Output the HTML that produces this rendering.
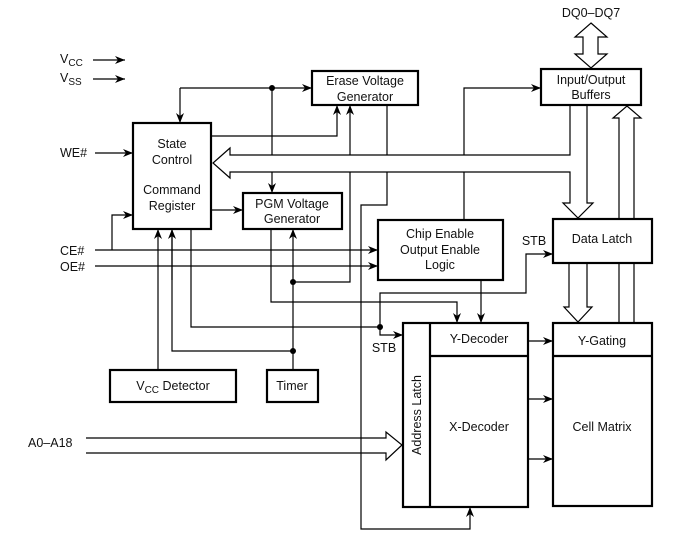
<!DOCTYPE html>
<html><head><meta charset="utf-8"><style>
html,body{margin:0;padding:0;background:#fff}
svg{display:block}
text{font-family:"Liberation Sans",sans-serif;font-size:12.5px;fill:#111}
</style></head><body>
<svg width="697" height="560" viewBox="0 0 697 560" xmlns="http://www.w3.org/2000/svg">
<defs>
<marker id="a" markerWidth="10" markerHeight="8" refX="10" refY="4" orient="auto" markerUnits="userSpaceOnUse">
<path d="M0,0 L10,4 L0,8 L3,4 Z" fill="#000"/></marker>
</defs>
<g fill="none" stroke="#000" stroke-width="1.2">
<line x1="93" y1="60" x2="125" y2="60" marker-end="url(#a)"/>
<line x1="93" y1="79" x2="125" y2="79" marker-end="url(#a)"/>
<line x1="95" y1="153" x2="133" y2="153" marker-end="url(#a)"/>
<line x1="180" y1="88" x2="312" y2="88" marker-end="url(#a)"/>
<line x1="180" y1="88" x2="180" y2="123" marker-end="url(#a)"/>
<line x1="272" y1="88" x2="272" y2="193" marker-end="url(#a)"/>
<polyline points="211,136 337,136 337,105" marker-end="url(#a)"/>
<polyline points="293,282 350,282 350,105" marker-end="url(#a)"/>
<polyline points="387,105 387,205 361,205 361,529 470,529 470,507" marker-end="url(#a)"/>
<polyline points="464,220 464,88 541,88" marker-end="url(#a)"/>
<!-- bus hollow left (white filled, interrupts crossing lines) -->
<path d="M570,105 L570,155 L230,155 L230,148 L213,163 L230,178 L230,172 L570,172 L570,203 L563,203 L578,218 L593,203 L587,203 L587,105" fill="#fff"/>
<path d="M591,23 L607,37 L598,37 L598,54 L607,54 L591,68 L575,54 L583,54 L583,37 L575,37 Z"/>
<path d="M619,323 L619,118 L613,118 L627,106 L641,118 L634,118 L634,323"/>
<path d="M569,263 L569,307 L564,307 L578,322 L592,307 L587,307 L587,263"/>
<line x1="211" y1="210" x2="243" y2="210" marker-end="url(#a)"/>
<line x1="95" y1="250" x2="378" y2="250" marker-end="url(#a)"/>
<line x1="95" y1="266" x2="378" y2="266" marker-end="url(#a)"/>
<polyline points="112,250 112,215 133,215" marker-end="url(#a)"/>
<polyline points="271,229 271,302 457,302 457,323" marker-end="url(#a)"/>
<line x1="481" y1="280" x2="481" y2="323" marker-end="url(#a)"/>
<polyline points="191,229 191,327 380,327"/>
<polyline points="380,327 380,293 526,293 526,254 553,254" marker-end="url(#a)"/>
<polyline points="380,327 380,335 403,335" marker-end="url(#a)"/>
<line x1="158" y1="370" x2="158" y2="229" marker-end="url(#a)"/>
<polyline points="172,229 172,351 293,351"/>
<line x1="172" y1="280" x2="172" y2="229" marker-end="url(#a)"/>
<line x1="293" y1="370" x2="293" y2="229" marker-end="url(#a)"/>
<line x1="528" y1="341" x2="553" y2="341" marker-end="url(#a)"/>
<line x1="528" y1="399" x2="553" y2="399" marker-end="url(#a)"/>
<line x1="528" y1="459" x2="553" y2="459" marker-end="url(#a)"/>
<path d="M86,438 L386,438 L386,432 L402,445 L386,460 L386,453 L86,453"/>
<g stroke-width="2.2" fill="#fff">
<rect x="133" y="123" width="78" height="106"/>
<rect x="312" y="71" width="106" height="34"/>
<rect x="243" y="193" width="99" height="36"/>
<rect x="378" y="220" width="125" height="60"/>
<rect x="541" y="69" width="100" height="36"/>
<rect x="553" y="219" width="99" height="44"/>
<rect x="403" y="323" width="125" height="184"/>
<line x1="430" y1="323" x2="430" y2="507"/>
<line x1="430" y1="356" x2="528" y2="356"/>
<rect x="553" y="323" width="99" height="183"/>
<line x1="553" y1="356" x2="652" y2="356"/>
<rect x="110" y="370" width="126" height="32"/>
<rect x="267" y="370" width="51" height="32"/>
</g>
</g>
<g fill="#000">
<circle cx="272" cy="88" r="3"/>
<circle cx="293" cy="282" r="3"/>
<circle cx="293" cy="351" r="3"/>
<circle cx="380" cy="327" r="3"/>
</g>
<text x="60" y="63">V<tspan font-size="10" dy="3">CC</tspan></text>
<text x="60" y="82">V<tspan font-size="10" dy="3">SS</tspan></text>
<text x="60" y="157">WE#</text>
<text x="60" y="255">CE#</text>
<text x="60" y="271">OE#</text>
<text x="28" y="447">A0–A18</text>
<text x="172" y="148" text-anchor="middle">State</text>
<text x="172" y="164" text-anchor="middle">Control</text>
<text x="172" y="194" text-anchor="middle">Command</text>
<text x="172" y="210" text-anchor="middle">Register</text>
<text x="365" y="85" text-anchor="middle">Erase Voltage</text>
<text x="365" y="101" text-anchor="middle">Generator</text>
<text x="292" y="208" text-anchor="middle">PGM Voltage</text>
<text x="292" y="223" text-anchor="middle">Generator</text>
<text x="440" y="238" text-anchor="middle">Chip Enable</text>
<text x="440" y="254" text-anchor="middle">Output Enable</text>
<text x="440" y="269" text-anchor="middle">Logic</text>
<text x="591" y="84" text-anchor="middle">Input/Output</text>
<text x="591" y="99" text-anchor="middle">Buffers</text>
<text x="591" y="17" text-anchor="middle">DQ0–DQ7</text>
<text x="602" y="243" text-anchor="middle">Data Latch</text>
<text x="534" y="245" text-anchor="middle">STB</text>
<text x="384" y="352" text-anchor="middle">STB</text>
<text x="479" y="343" text-anchor="middle">Y-Decoder</text>
<text x="479" y="431" text-anchor="middle">X-Decoder</text>
<text x="602" y="345" text-anchor="middle">Y-Gating</text>
<text x="602" y="431" text-anchor="middle">Cell Matrix</text>
<text transform="translate(421,415) rotate(-90)" text-anchor="middle">Address Latch</text>
<text x="173" y="390" text-anchor="middle">V<tspan font-size="10" dy="3">CC</tspan><tspan dy="-3"> Detector</tspan></text>
<text x="292" y="390" text-anchor="middle">Timer</text>
</svg>
</body></html>
